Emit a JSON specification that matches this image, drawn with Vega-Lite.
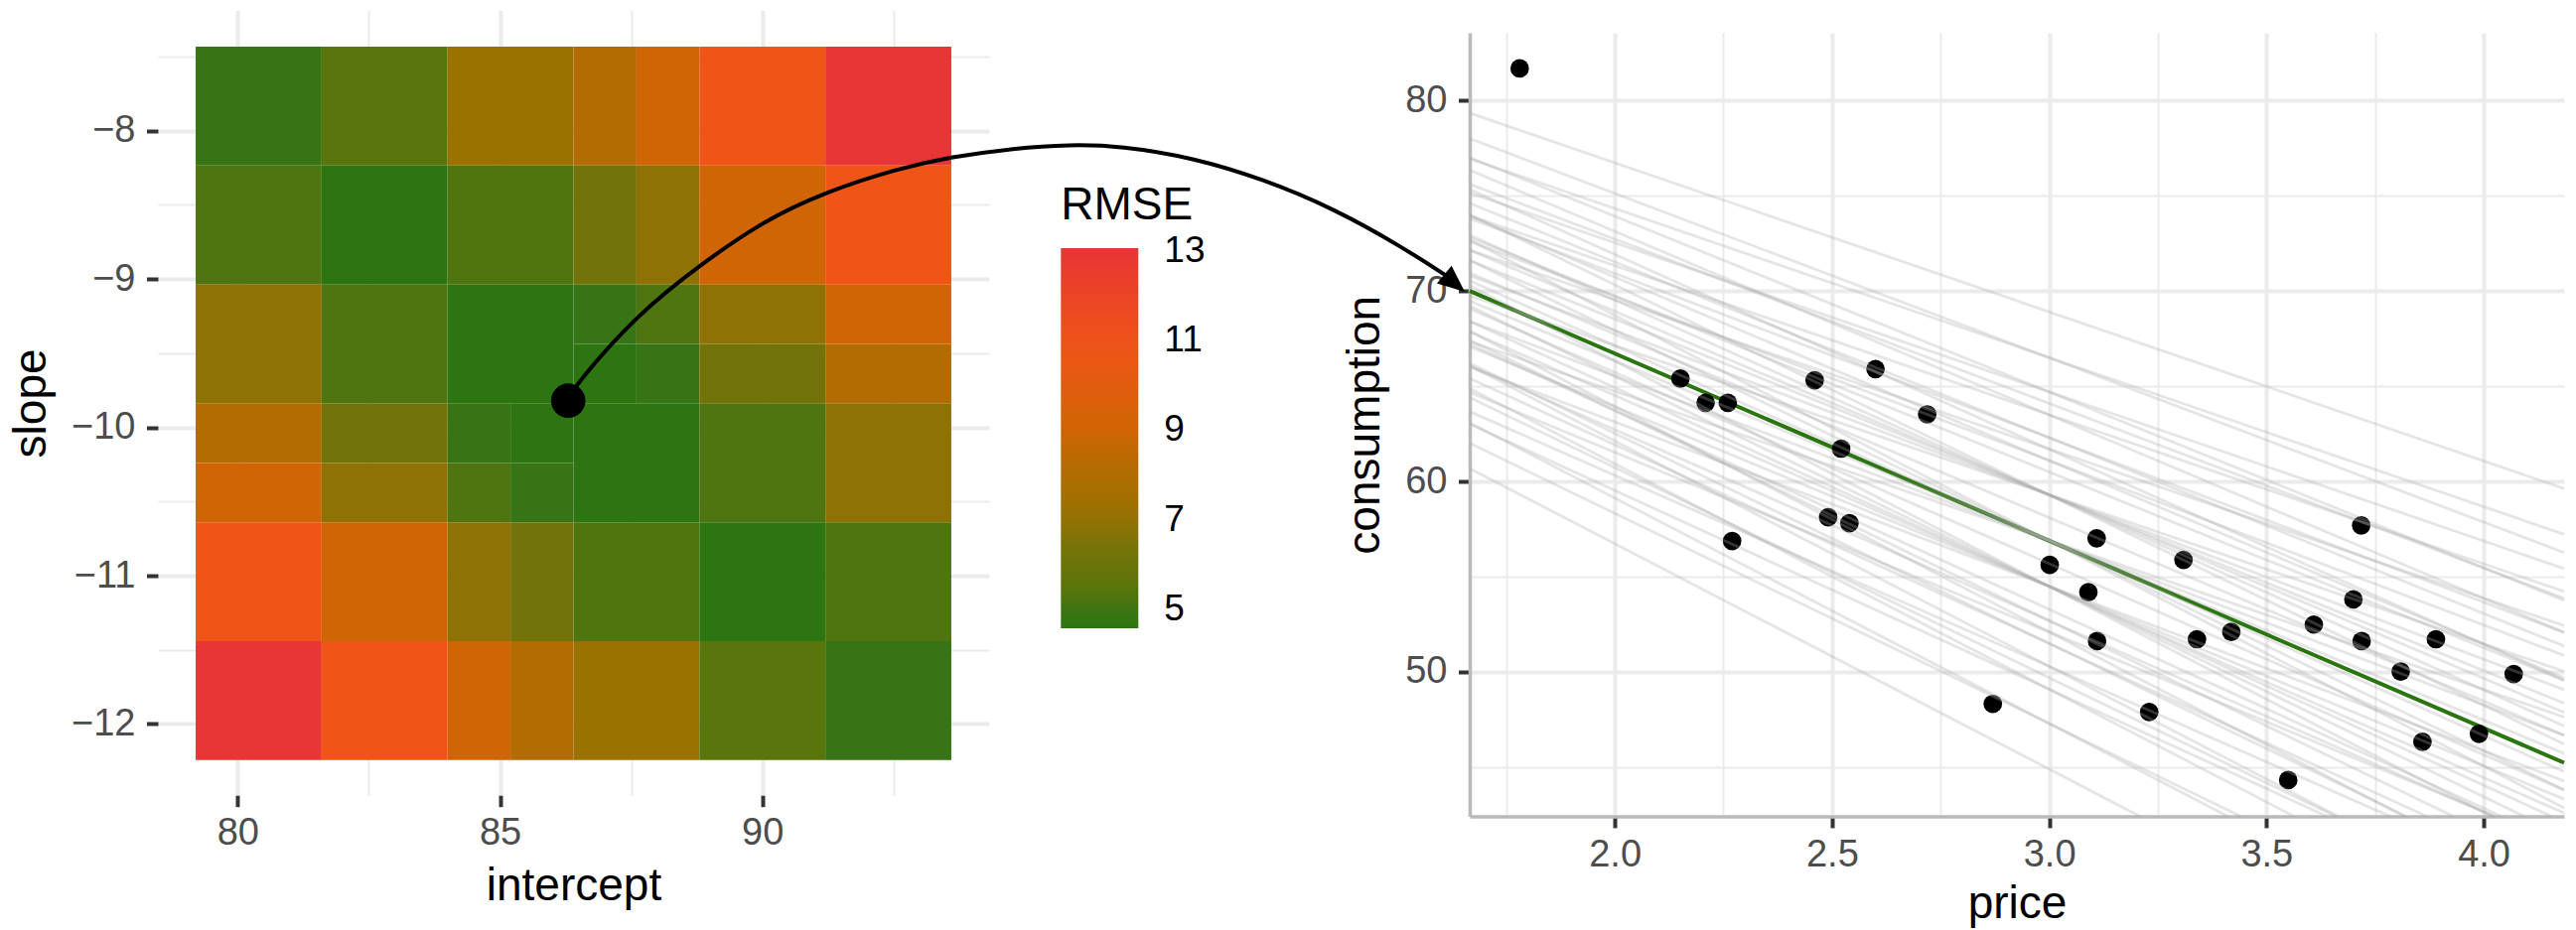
{
  "$schema": "https://vega.github.io/schema/vega-lite/v6.json",
  "width": 2594,
  "height": 937,
  "autosize": {"type": "none"},
  "padding": 0,
  "background": "white",
  "config": {
    "font": "Liberation Sans",
    "view": {"stroke": null},
    "axis": {
      "labelFont": "Liberation Sans",
      "titleFont": "Liberation Sans",
      "labelFontSize": 38,
      "labelColor": "#4D4D4D",
      "titleFontSize": 46,
      "titleColor": "#000000",
      "titleFontWeight": "normal",
      "tickColor": "#333333",
      "tickWidth": 4,
      "tickSize": 11.5,
      "gridColor": "#EBEBEB",
      "labelFlush": false,
      "labelOverlap": false,
      "labelBound": false,
      "titleBaseline": "alphabetic"
    }
  },
  "resolve": {
    "scale": {"x": "independent", "y": "independent"},
    "axis": {"x": "independent", "y": "independent"}
  },
  "layer": [
    {
      "data": {
        "values": [
          {"x1": 79.2, "x2": 81.6, "y1": -8.235, "y2": -7.433, "rmse": 4.85},
          {"x1": 81.6, "x2": 84.0, "y1": -8.235, "y2": -7.433, "rmse": 5.45},
          {"x1": 84.0, "x2": 86.4, "y1": -8.235, "y2": -7.433, "rmse": 7.15},
          {"x1": 86.4, "x2": 87.6, "y1": -8.235, "y2": -7.433, "rmse": 8.15},
          {"x1": 87.6, "x2": 88.8, "y1": -8.235, "y2": -7.433, "rmse": 9.0},
          {"x1": 88.8, "x2": 91.2, "y1": -8.235, "y2": -7.433, "rmse": 10.8},
          {"x1": 91.2, "x2": 93.6, "y1": -8.235, "y2": -7.433, "rmse": 13.05},
          {"x1": 79.2, "x2": 81.6, "y1": -9.037, "y2": -8.235, "rmse": 5.25},
          {"x1": 81.6, "x2": 84.0, "y1": -9.037, "y2": -8.235, "rmse": 4.6},
          {"x1": 84.0, "x2": 86.4, "y1": -9.037, "y2": -8.235, "rmse": 5.3},
          {"x1": 86.4, "x2": 87.6, "y1": -9.037, "y2": -8.235, "rmse": 6.25},
          {"x1": 87.6, "x2": 88.8, "y1": -9.037, "y2": -8.235, "rmse": 6.9},
          {"x1": 88.8, "x2": 91.2, "y1": -9.037, "y2": -8.235, "rmse": 9.0},
          {"x1": 91.2, "x2": 93.6, "y1": -9.037, "y2": -8.235, "rmse": 10.8},
          {"x1": 79.2, "x2": 81.6, "y1": -9.838, "y2": -9.037, "rmse": 6.9},
          {"x1": 81.6, "x2": 84.0, "y1": -9.838, "y2": -9.037, "rmse": 5.25},
          {"x1": 84.0, "x2": 86.4, "y1": -9.838, "y2": -9.037, "rmse": 4.6},
          {"x1": 86.4, "x2": 87.6, "y1": -9.437, "y2": -9.037, "rmse": 4.85},
          {"x1": 87.6, "x2": 88.8, "y1": -9.437, "y2": -9.037, "rmse": 5.25},
          {"x1": 88.8, "x2": 91.2, "y1": -9.437, "y2": -9.037, "rmse": 6.9},
          {"x1": 91.2, "x2": 93.6, "y1": -9.437, "y2": -9.037, "rmse": 9.0},
          {"x1": 86.4, "x2": 87.6, "y1": -9.838, "y2": -9.437, "rmse": 4.6},
          {"x1": 87.6, "x2": 88.8, "y1": -9.838, "y2": -9.437, "rmse": 4.85},
          {"x1": 88.8, "x2": 91.2, "y1": -9.838, "y2": -9.437, "rmse": 6.25},
          {"x1": 91.2, "x2": 93.6, "y1": -9.838, "y2": -9.437, "rmse": 8.15},
          {"x1": 79.2, "x2": 81.6, "y1": -10.24, "y2": -9.838, "rmse": 8.15},
          {"x1": 81.6, "x2": 84.0, "y1": -10.24, "y2": -9.838, "rmse": 6.25},
          {"x1": 84.0, "x2": 85.2, "y1": -10.24, "y2": -9.838, "rmse": 4.85},
          {"x1": 85.2, "x2": 86.4, "y1": -10.24, "y2": -9.838, "rmse": 4.6},
          {"x1": 79.2, "x2": 81.6, "y1": -10.64, "y2": -10.24, "rmse": 9.0},
          {"x1": 81.6, "x2": 84.0, "y1": -10.64, "y2": -10.24, "rmse": 6.9},
          {"x1": 84.0, "x2": 85.2, "y1": -10.64, "y2": -10.24, "rmse": 5.25},
          {"x1": 85.2, "x2": 86.4, "y1": -10.64, "y2": -10.24, "rmse": 4.85},
          {"x1": 86.4, "x2": 88.8, "y1": -10.64, "y2": -9.838, "rmse": 4.6},
          {"x1": 88.8, "x2": 91.2, "y1": -10.64, "y2": -9.838, "rmse": 5.25},
          {"x1": 91.2, "x2": 93.6, "y1": -10.64, "y2": -9.838, "rmse": 6.9},
          {"x1": 79.2, "x2": 81.6, "y1": -11.441, "y2": -10.64, "rmse": 10.8},
          {"x1": 81.6, "x2": 84.0, "y1": -11.441, "y2": -10.64, "rmse": 9.0},
          {"x1": 84.0, "x2": 85.2, "y1": -11.441, "y2": -10.64, "rmse": 6.9},
          {"x1": 85.2, "x2": 86.4, "y1": -11.441, "y2": -10.64, "rmse": 6.25},
          {"x1": 86.4, "x2": 88.8, "y1": -11.441, "y2": -10.64, "rmse": 5.3},
          {"x1": 88.8, "x2": 91.2, "y1": -11.441, "y2": -10.64, "rmse": 4.6},
          {"x1": 91.2, "x2": 93.6, "y1": -11.441, "y2": -10.64, "rmse": 5.25},
          {"x1": 79.2, "x2": 81.6, "y1": -12.242, "y2": -11.441, "rmse": 13.05},
          {"x1": 81.6, "x2": 84.0, "y1": -12.242, "y2": -11.441, "rmse": 10.8},
          {"x1": 84.0, "x2": 85.2, "y1": -12.242, "y2": -11.441, "rmse": 9.0},
          {"x1": 85.2, "x2": 86.4, "y1": -12.242, "y2": -11.441, "rmse": 8.15},
          {"x1": 86.4, "x2": 88.8, "y1": -12.242, "y2": -11.441, "rmse": 7.15},
          {"x1": 88.8, "x2": 91.2, "y1": -12.242, "y2": -11.441, "rmse": 5.45},
          {"x1": 91.2, "x2": 93.6, "y1": -12.242, "y2": -11.441, "rmse": 4.85}
        ]
      },
      "mark": {"type": "rect", "strokeWidth": 0},
      "encoding": {
        "x": {
          "field": "x1", "type": "quantitative",
          "scale": {"domain": [78.48, 94.32], "range": [159, 996], "nice": false, "zero": false},
          "axis": {
            "title": "intercept", "orient": "bottom", "offset": -135.8,
            "values": [80, 85, 90],
            "format": "d",
            "domain": false, "grid": false,
            "labelPadding": 8, "titleY": 105
          }
        },
        "x2": {"field": "x2"},
        "y": {
          "field": "y1", "type": "quantitative",
          "scale": {"domain": [-12.48, -7.19], "range": [801.2, 10.6], "nice": false, "zero": false},
          "axis": {
            "title": "slope", "orient": "left", "offset": -159,
            "values": [-7.5, -8, -8.5, -9, -9.5, -10, -10.5, -11, -11.5, -12],
            "labelExpr": "datum.value % 1 === 0 ? format(datum.value, 'd') : ''",
            "domain": false, "grid": true,
            "gridWidth": {"condition": {"test": "datum.value % 1 === 0", "value": 4}, "value": 2},
            "tickOpacity": {"condition": {"test": "datum.value % 1 === 0", "value": 1}, "value": 0},
            "labelPadding": 11.5, "titleX": -114
          }
        },
        "y2": {"field": "y2"},
        "color": {
          "field": "rmse", "type": "quantitative",
          "scale": {
            "type": "linear",
            "domain": [4.57, 4.85, 5.25, 5.45, 6.25, 6.9, 7.15, 8.15, 9.0, 10.8, 13.07],
            "range": ["#2C7511", "#367415", "#4E750F", "#59750C", "#727409", "#8F7205", "#9A7200", "#B36C01", "#CF6504", "#EF5517", "#E83535"],
            "interpolate": "rgb"
          },
          "legend": {
            "title": "RMSE", "orient": "none", "legendX": 1068.3, "legendY": 184.7,
            "direction": "vertical", "padding": 0,
            "titleFont": "Liberation Sans", "titleFontSize": 46, "titleFontWeight": "normal", "titleColor": "#000000", "titlePadding": 19.3,
            "gradientLength": 383, "gradientThickness": 78, "gradientStrokeWidth": 0,
            "labelFont": "Liberation Sans", "labelFontSize": 37, "labelColor": "#000000", "labelOffset": 26, "labelOverlap": false,
            "values": [5, 7, 9, 11, 13]
          }
        }
      }
    },
    {
      "data": {"values": [{"x": 86.3, "y": -9.82}]},
      "mark": {"type": "point", "filled": true, "color": "#000000", "opacity": 1, "size": 1200, "clip": false},
      "encoding": {
        "x": {
          "field": "x", "type": "quantitative",
          "scale": {"domain": [78.48, 94.32], "range": [159, 996], "nice": false, "zero": false},
          "axis": {
            "orient": "top", "title": null, "labels": false, "ticks": false, "domain": false, "grid": true,
            "values": [80, 82.5, 85, 87.5, 90, 92.5],
            "gridWidth": {"condition": {"test": "datum.value % 5 === 0", "value": 4}, "value": 2}
          }
        },
        "y": {"field": "y", "type": "quantitative", "scale": {"domain": [-12.48, -7.19], "range": [801.2, 10.6], "nice": false, "zero": false}, "axis": null}
      }
    },
    {
      "data": {
        "values": [
          {"i": 0, "ax": 86.296, "ay": -9.816},
          {"i": 1, "ax": 86.447, "ay": -9.709},
          {"i": 2, "ax": 87.615, "ay": -9.238},
          {"i": 3, "ax": 88.813, "ay": -8.904},
          {"i": 4, "ax": 90.043, "ay": -8.603},
          {"i": 5, "ax": 91.211, "ay": -8.412},
          {"i": 6, "ax": 92.566, "ay": -8.257},
          {"i": 7, "ax": 93.601, "ay": -8.176},
          {"i": 8, "ax": 94.793, "ay": -8.119},
          {"i": 9, "ax": 95.853, "ay": -8.093},
          {"i": 10, "ax": 96.837, "ay": -8.103},
          {"i": 11, "ax": 98.181, "ay": -8.18},
          {"i": 12, "ax": 99.525, "ay": -8.324},
          {"i": 13, "ax": 100.887, "ay": -8.524},
          {"i": 14, "ax": 102.231, "ay": -8.792},
          {"i": 15, "ax": 103.101, "ay": -8.993}
        ]
      },
      "mark": {"type": "line", "color": "#000000", "strokeWidth": 4, "interpolate": "basis", "clip": false},
      "encoding": {
        "x": {"field": "ax", "type": "quantitative", "scale": {"domain": [78.48, 94.32], "range": [159, 996], "nice": false, "zero": false}, "axis": null},
        "y": {"field": "ay", "type": "quantitative", "scale": {"domain": [-12.48, -7.19], "range": [801.2, 10.6], "nice": false, "zero": false}, "axis": null},
        "order": {"field": "i", "type": "quantitative"}
      }
    },
    {
      "data": {"values": [{"hx": 103.385, "hy": -9.086}]},
      "mark": {"type": "point", "shape": "M0,0L-2,-0.85L-2,0.85Z", "filled": true, "color": "#000000", "opacity": 1, "size": 729, "angle": 40, "clip": false},
      "encoding": {
        "x": {"field": "hx", "type": "quantitative", "scale": {"domain": [78.48, 94.32], "range": [159, 996], "nice": false, "zero": false}, "axis": null},
        "y": {"field": "hy", "type": "quantitative", "scale": {"domain": [-12.48, -7.19], "range": [801.2, 10.6], "nice": false, "zero": false}, "axis": null}
      }
    },
    {
      "data": {"values": [{"p1": 1.666, "c1": 70.0, "p2": 4.185, "c2": 45.22}]},
      "mark": {"type": "rule", "color": "#2B7510", "strokeWidth": 4},
      "encoding": {
        "x": {
          "field": "p1", "type": "quantitative",
          "scale": {"domain": [1.666, 4.185], "range": [1480, 2582], "nice": false, "zero": false},
          "axis": {
            "title": "price", "orient": "bottom", "offset": -114.6,
            "values": [2, 2.5, 3, 3.5, 4],
            "format": ".1f",
            "domain": true, "domainColor": "#BABABA", "domainWidth": 3.5,
            "grid": false,
            "labelPadding": 8.5, "titleY": 102
          }
        },
        "x2": {"field": "p2"},
        "y": {
          "field": "c1", "type": "quantitative",
          "scale": {"domain": [42.41, 83.56], "range": [822.4, 33.1], "nice": false, "zero": false},
          "axis": {
            "title": "consumption", "orient": "left", "offset": -1480,
            "values": [45, 50, 55, 60, 65, 70, 75, 80],
            "labelExpr": "datum.value % 10 === 0 ? format(datum.value, 'd') : ''",
            "domain": true, "domainColor": "#BABABA", "domainWidth": 3.5,
            "grid": true,
            "gridWidth": {"condition": {"test": "datum.value % 10 === 0", "value": 4}, "value": 2},
            "tickOpacity": {"condition": {"test": "datum.value % 10 === 0", "value": 1}, "value": 0},
            "labelPadding": 11.5, "titleX": -92
          }
        },
        "y2": {"field": "c2"}
      }
    },
    {
      "data": {
        "values": [
          {"price": 1.781, "consumption": 81.69},
          {"price": 2.151, "consumption": 65.40},
          {"price": 2.209, "consumption": 64.13},
          {"price": 2.260, "consumption": 64.13},
          {"price": 2.460, "consumption": 65.31},
          {"price": 2.600, "consumption": 65.90},
          {"price": 2.719, "consumption": 63.52},
          {"price": 2.521, "consumption": 61.72},
          {"price": 2.491, "consumption": 58.12},
          {"price": 2.540, "consumption": 57.80},
          {"price": 2.270, "consumption": 56.87},
          {"price": 2.870, "consumption": 48.31},
          {"price": 3.001, "consumption": 55.61},
          {"price": 3.109, "consumption": 57.01},
          {"price": 3.090, "consumption": 54.18},
          {"price": 3.110, "consumption": 51.61},
          {"price": 3.230, "consumption": 47.89},
          {"price": 3.309, "consumption": 55.88},
          {"price": 3.340, "consumption": 51.71},
          {"price": 3.419, "consumption": 52.09},
          {"price": 3.550, "consumption": 44.31},
          {"price": 3.609, "consumption": 52.48},
          {"price": 3.700, "consumption": 53.80},
          {"price": 3.718, "consumption": 57.69},
          {"price": 3.719, "consumption": 51.61},
          {"price": 3.809, "consumption": 50.01},
          {"price": 3.859, "consumption": 46.32},
          {"price": 3.890, "consumption": 51.71},
          {"price": 3.989, "consumption": 46.74},
          {"price": 4.069, "consumption": 49.88}
        ]
      },
      "mark": {"type": "circle", "color": "#000000", "opacity": 1, "size": 350},
      "encoding": {
        "x": {
          "field": "price", "type": "quantitative",
          "scale": {"domain": [1.666, 4.185], "range": [1480, 2582], "nice": false, "zero": false},
          "axis": {
            "orient": "top", "title": null, "labels": false, "ticks": false, "domain": false, "grid": true,
            "values": [1.75, 2, 2.25, 2.5, 2.75, 3, 3.25, 3.5, 3.75, 4],
            "gridWidth": {"condition": {"test": "(datum.value * 4) % 2 === 0", "value": 4}, "value": 2}
          }
        },
        "y": {"field": "consumption", "type": "quantitative", "scale": {"domain": [42.41, 83.56], "range": [822.4, 33.1], "nice": false, "zero": false}, "axis": null}
      }
    },
    {
      "data": {
        "values": [
          {"p1": 1.666, "c1": 67.35, "p2": 4.185, "c2": 47.62},
          {"p1": 1.666, "c1": 69.75, "p2": 4.185, "c2": 50.02},
          {"p1": 1.666, "c1": 72.15, "p2": 4.185, "c2": 52.42},
          {"p1": 1.666, "c1": 73.95, "p2": 4.185, "c2": 54.22},
          {"p1": 1.666, "c1": 75.15, "p2": 4.185, "c2": 55.42},
          {"p1": 1.666, "c1": 76.95, "p2": 4.185, "c2": 57.22},
          {"p1": 1.666, "c1": 79.35, "p2": 4.185, "c2": 59.62},
          {"p1": 1.666, "c1": 66.01, "p2": 4.185, "c2": 44.26},
          {"p1": 1.666, "c1": 68.41, "p2": 4.185, "c2": 46.66},
          {"p1": 1.666, "c1": 70.81, "p2": 4.185, "c2": 49.06},
          {"p1": 1.666, "c1": 72.61, "p2": 4.185, "c2": 50.86},
          {"p1": 1.666, "c1": 73.81, "p2": 4.185, "c2": 52.06},
          {"p1": 1.666, "c1": 75.61, "p2": 4.185, "c2": 53.86},
          {"p1": 1.666, "c1": 78.01, "p2": 4.185, "c2": 56.26},
          {"p1": 1.666, "c1": 64.68, "p2": 4.026, "c2": 42.41},
          {"p1": 1.666, "c1": 67.08, "p2": 4.185, "c2": 43.31},
          {"p1": 1.666, "c1": 69.48, "p2": 4.185, "c2": 45.71},
          {"p1": 1.666, "c1": 71.61, "p2": 4.185, "c2": 48.35},
          {"p1": 1.666, "c1": 72.81, "p2": 4.185, "c2": 49.55},
          {"p1": 1.666, "c1": 74.61, "p2": 4.185, "c2": 51.35},
          {"p1": 1.666, "c1": 77.01, "p2": 4.185, "c2": 53.75},
          {"p1": 1.666, "c1": 70.95, "p2": 4.185, "c2": 46.67},
          {"p1": 1.666, "c1": 72.15, "p2": 4.185, "c2": 47.87},
          {"p1": 1.666, "c1": 73.95, "p2": 4.185, "c2": 49.67},
          {"p1": 1.666, "c1": 76.35, "p2": 4.185, "c2": 52.07},
          {"p1": 1.666, "c1": 63.67, "p2": 3.784, "c2": 42.41},
          {"p1": 1.666, "c1": 66.07, "p2": 4.023, "c2": 42.41},
          {"p1": 1.666, "c1": 67.87, "p2": 4.185, "c2": 42.58},
          {"p1": 1.666, "c1": 69.07, "p2": 4.185, "c2": 43.78},
          {"p1": 1.666, "c1": 63.01, "p2": 3.639, "c2": 42.41},
          {"p1": 1.666, "c1": 65.41, "p2": 3.869, "c2": 42.41},
          {"p1": 1.666, "c1": 67.21, "p2": 4.041, "c2": 42.41},
          {"p1": 1.666, "c1": 68.41, "p2": 4.156, "c2": 42.41},
          {"p1": 1.666, "c1": 70.54, "p2": 4.185, "c2": 44.75},
          {"p1": 1.666, "c1": 72.94, "p2": 4.185, "c2": 47.15},
          {"p1": 1.666, "c1": 75.34, "p2": 4.185, "c2": 49.55},
          {"p1": 1.666, "c1": 62.01, "p2": 3.441, "c2": 42.41},
          {"p1": 1.666, "c1": 64.41, "p2": 3.659, "c2": 42.41},
          {"p1": 1.666, "c1": 66.21, "p2": 3.822, "c2": 42.41},
          {"p1": 1.666, "c1": 67.41, "p2": 3.93, "c2": 42.41},
          {"p1": 1.666, "c1": 69.21, "p2": 4.093, "c2": 42.41},
          {"p1": 1.666, "c1": 71.61, "p2": 4.185, "c2": 43.80},
          {"p1": 1.666, "c1": 74.01, "p2": 4.185, "c2": 46.20},
          {"p1": 1.666, "c1": 60.68, "p2": 3.209, "c2": 42.41},
          {"p1": 1.666, "c1": 63.08, "p2": 3.411, "c2": 42.41},
          {"p1": 1.666, "c1": 64.88, "p2": 3.563, "c2": 42.41},
          {"p1": 1.666, "c1": 66.08, "p2": 3.665, "c2": 42.41},
          {"p1": 1.666, "c1": 67.88, "p2": 3.817, "c2": 42.41},
          {"p1": 1.666, "c1": 70.28, "p2": 4.019, "c2": 42.41},
          {"p1": 1.666, "c1": 72.68, "p2": 4.185, "c2": 42.85}
        ]
      },
      "mark": {"type": "rule", "color": "#A8A8A8", "opacity": 0.3, "strokeWidth": 2.8, "strokeCap": "butt"},
      "encoding": {
        "x": {"field": "p1", "type": "quantitative", "scale": {"domain": [1.666, 4.185], "range": [1480, 2582], "nice": false, "zero": false}, "axis": null},
        "y": {"field": "c1", "type": "quantitative", "scale": {"domain": [42.41, 83.56], "range": [822.4, 33.1], "nice": false, "zero": false}, "axis": null},
        "x2": {"field": "p2"},
        "y2": {"field": "c2"}
      }
    }
  ]
}
